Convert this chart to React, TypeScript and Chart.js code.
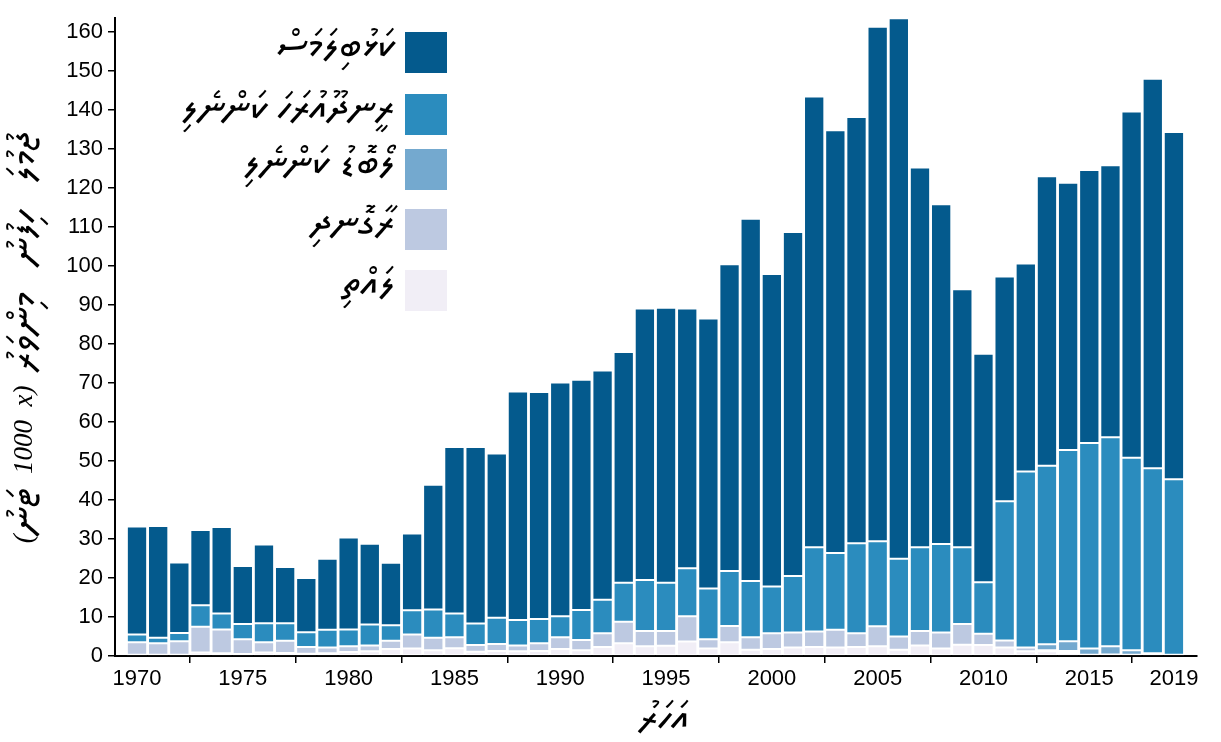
import React, { useEffect, useRef } from "react";
import { Chart, registerables } from "chart.js";
Chart.register(...registerables);

// ---- Data (thousand tonnes) ----
const years = [
  1970, 1971, 1972, 1973, 1974, 1975, 1976, 1977, 1978, 1979,
  1980, 1981, 1982, 1983, 1984, 1985, 1986, 1987, 1988, 1989,
  1990, 1991, 1992, 1993, 1994, 1995, 1996, 1997, 1998, 1999,
  2000, 2001, 2002, 2003, 2004, 2005, 2006, 2007, 2008, 2009,
  2010, 2011, 2012, 2013, 2014, 2015, 2016, 2017, 2018, 2019,
];

// skipjack (darkest, top of stack)
const skipjack = [
  27.7, 28.6, 18.1, 19.3, 22.2, 14.9, 20.2, 14.4, 13.9, 18.2,
  23.6, 20.7, 16.0, 19.7, 32.0, 42.7, 45.3, 42.1, 58.6, 58.2,
  59.9, 59.0, 58.8, 59.1, 69.6, 70.5, 66.6, 69.2, 78.6, 92.9,
  80.1, 88.2, 115.5, 108.4, 109.3, 131.9, 138.6, 97.3, 87.1, 66.1,
  58.6, 57.6, 53.3, 74.2, 68.5, 70.0, 69.7, 88.8, 99.9, 89.0,
];
// yellowfin
const yellowfin = [
  2.0, 1.4, 2.1, 5.5, 4.1, 3.9, 4.9, 4.5, 3.8, 4.5,
  4.3, 5.4, 4.0, 6.2, 7.2, 6.1, 5.5, 6.7, 6.5, 6.2,
  5.4, 7.7, 8.6, 10.0, 13.1, 12.4, 12.3, 13.0, 14.1, 14.4,
  12.0, 14.5, 21.6, 19.7, 23.1, 21.8, 19.9, 21.5, 22.7, 19.7,
  13.2, 35.7, 45.1, 45.8, 49.0, 52.7, 53.6, 49.3, 47.4, 45.0,
];
// bigeye
const bigeye = [
  0, 0, 0, 0, 0, 0, 0, 0, 0, 0,
  0, 0, 0, 0, 0, 0, 0, 0, 0, 0,
  0, 0, 0, 0, 0, 0, 0, 0, 0, 0,
  0, 0, 0, 0, 0, 0, 0, 0, 0, 0,
  0, 0, 0, 1.5, 2.5, 1.6, 2.1, 1.2, 0.5, 0.3,
];
// frigate tuna
const frigate = [
  3.2, 3.0, 3.5, 6.6, 6.1, 3.8, 2.6, 3.1, 1.7, 1.5,
  1.5, 1.5, 2.1, 3.6, 3.2, 2.8, 1.7, 1.8, 1.5, 2.0,
  3.0, 2.6, 3.5, 5.5, 3.9, 3.8, 6.5, 2.4, 4.2, 3.2,
  4.0, 3.8, 4.0, 4.5, 3.5, 5.1, 3.4, 3.7, 4.1, 5.3,
  2.9, 1.8, 1.0, 0.3, 0.5, 0, 0, 0, 0, 0,
];
// kawakawa (lightest, bottom of stack)
const kawakawa = [
  0.3, 0.3, 0.3, 0.9, 0.7, 0.5, 0.9, 0.8, 0.6, 0.7,
  1.0, 1.2, 1.8, 1.9, 1.5, 2.0, 1.1, 1.3, 1.2, 1.3,
  1.8, 1.5, 2.3, 3.3, 2.5, 2.6, 3.7, 1.9, 3.5, 1.6,
  1.8, 2.2, 2.3, 2.2, 2.3, 2.5, 1.6, 2.7, 1.9, 2.9,
  2.8, 2.2, 1.2, 1.2, 0.8, 0.3, 0.4, 0.3, 0.2, 0,
];

const seriesLabels = [
  "ކަޅުބިލަމަސް",
  "ރީނދޫއުރަހަ ކަންނެލި",
  "ލޯބޮޑު ކަންނެލި",
  "ރާގޮނދި",
  "ލައްތި",
];
const seriesColors = ["#045a8d", "#2b8cbe", "#74a9cf", "#bdc9e1", "#f1eef6"];
const xTickValues = [1970, 1975, 1980, 1985, 1990, 1995, 2000, 2005, 2010, 2015, 2019];
const yTickValues = [0, 10, 20, 30, 40, 50, 60, 70, 80, 90, 100, 110, 120, 130, 140, 150, 160];
// y title in logical (reading) order: "ޖުމުލަ ހިފުނު މިންވަރު (x 1000 ޓަނު)"
const yTitleParts = ["ޖުމުލަ", "    ", "ހިފުނު", "    ", "މިންވަރު", "  ", "(", "x", "  ", "1000", "  ", "ޓަނު", ")"];
const xTitle = "އަހަރު";

const thaanaFont = "41px 'Noto Sans Thaana', 'MV Boli', 'FreeSerif', 'DejaVu Sans', sans-serif";
const latinTitleFont = "italic 27px 'Liberation Serif', 'Times New Roman', serif";
const tickFont = "'Liberation Sans', Arial, sans-serif";
const isThaana = (s: string) => /[\u0780-\u07BF]/.test(s);

const textPlugin = {
  id: "thaanaText",
  afterDraw(chart: any) {
    const ctx = chart.ctx as CanvasRenderingContext2D;
    const ca = chart.chartArea;
    ctx.save();
    ctx.direction = "rtl";
    ctx.textBaseline = "middle";
    // legend
    const boxLeft = 405, boxW = 42, boxH = 41;
    const tops = [32, 94, 149, 209, 270];
    seriesLabels.forEach((lab, i) => {
      ctx.fillStyle = seriesColors[i];
      ctx.fillRect(boxLeft, tops[i], boxW, boxH);
      ctx.fillStyle = "#000";
      ctx.font = thaanaFont;
      ctx.textAlign = "right";
      ctx.fillText(lab, boxLeft - 10, tops[i] + boxH / 2 - 3);
    });
    // y title, laid out right-to-left in the rotated frame
    ctx.save();
    ctx.translate(25, (ca.top + ca.bottom) / 2);
    ctx.rotate(-Math.PI / 2);
    ctx.fillStyle = "#000";
    ctx.textAlign = "right";
    const widths = yTitleParts.map((p) => {
      ctx.font = isThaana(p) ? thaanaFont : latinTitleFont;
      return ctx.measureText(p).width;
    });
    const total = widths.reduce((a, b) => a + b, 0);
    let cursor = total / 2;
    yTitleParts.forEach((p, i) => {
      const th = isThaana(p);
      ctx.font = th ? thaanaFont : latinTitleFont;
      ctx.fillText(p, cursor, th ? 2 : 0);
      cursor -= widths[i];
    });
    ctx.restore();
    // x title
    ctx.font = thaanaFont;
    ctx.textAlign = "center";
    ctx.fillStyle = "#000";
    ctx.fillText(xTitle, (ca.left + ca.right) / 2 + 8, 721);
    ctx.restore();
  },
};

export default function App() {
  const ref = useRef<HTMLCanvasElement | null>(null);
  useEffect(() => {
    document.body.style.margin = "0";
    const mk = (arr: number[]) => years.map((y, i) => ({ x: y, y: arr[i] }));
    const stackBottomFirst = [
      { label: seriesLabels[4], data: mk(kawakawa), color: seriesColors[4] },
      { label: seriesLabels[3], data: mk(frigate), color: seriesColors[3] },
      { label: seriesLabels[2], data: mk(bigeye), color: seriesColors[2] },
      { label: seriesLabels[1], data: mk(yellowfin), color: seriesColors[1] },
      { label: seriesLabels[0], data: mk(skipjack), color: seriesColors[0] },
    ];
    const chart = new Chart(ref.current!, {
      type: "bar",
      data: {
        datasets: stackBottomFirst.map((s) => ({
          label: s.label,
          data: s.data as any,
          backgroundColor: s.color,
          borderColor: "#ffffff",
          borderWidth: 1,
          borderSkipped: false,
          barPercentage: 0.96,
          categoryPercentage: 1,
        })),
      },
      options: {
        animation: false,
        responsive: false,
        maintainAspectRatio: false,
        layout: { padding: { left: 0, top: 6, right: 24, bottom: 0 } },
        plugins: { legend: { display: false }, tooltip: { enabled: false } },
        scales: {
          x: {
            type: "linear",
            stacked: true,
            min: 1968.96,
            max: 2020.09,
            offset: false,
            grid: { display: true, drawOnChartArea: false, drawTicks: true, tickLength: 7, color: "#000", lineWidth: 1.5 },
            border: { display: true, color: "#000", width: 2 },
            ticks: {
              color: "#000",
              font: { family: tickFont, size: 22 },
              padding: 3,
              maxRotation: 0,
              autoSkip: false,
              callback: (v: any) => String(v),
            },
            afterBuildTicks: (scale: any) => {
              scale.ticks = xTickValues.map((v) => ({ value: v }));
            },
            afterFit: (scale: any) => {
              scale.height = 86;
            },
          },
          y: {
            stacked: true,
            min: 0,
            max: 163.5,
            grid: { display: true, drawOnChartArea: false, drawTicks: true, tickLength: 7, color: "#000", lineWidth: 1.5 },
            border: { display: true, color: "#000", width: 2 },
            ticks: {
              color: "#000",
              font: { family: tickFont, size: 22 },
              padding: 5,
              autoSkip: false,
              callback: (v: any) => String(v),
            },
            afterBuildTicks: (scale: any) => {
              scale.ticks = yTickValues.map((v) => ({ value: v }));
            },
            afterFit: (scale: any) => {
              scale.width = 115;
            },
          },
        },
      },
      plugins: [textPlugin],
    });
    return () => chart.destroy();
  }, []);
  return (
    <div style={{ width: 1221, height: 742 }}>
      <canvas ref={ref} width={1221} height={742} style={{ width: 1221, height: 742, display: "block" }} />
    </div>
  );
}
